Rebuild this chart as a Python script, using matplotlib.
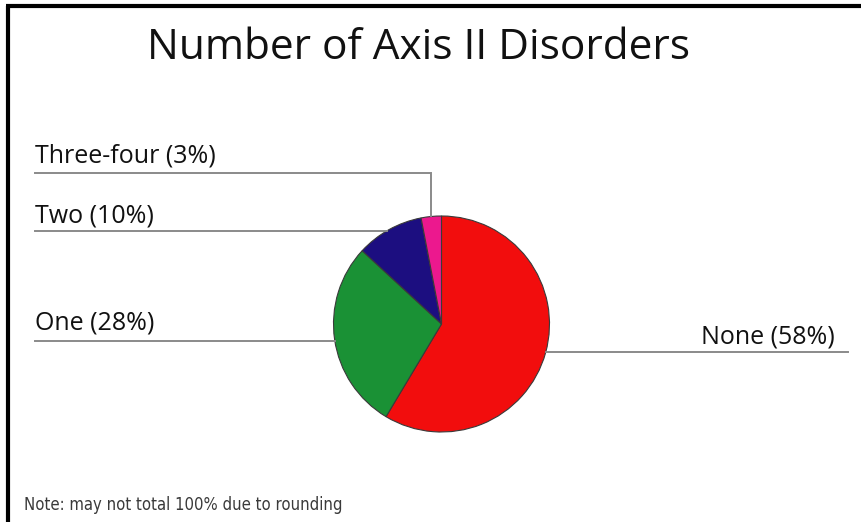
import numpy as np
import matplotlib
matplotlib.use("Agg")
import matplotlib.pyplot as plt

# data
labels = ["None", "One", "Two", "Three-four"]
percents = [58, 28, 10, 3]
colors = ["#F20D0D", "#1A9135", "#1C0E80", "#EC188E"]

W, H = 862, 522
fig = plt.figure(figsize=(W / 100, H / 100), dpi=100)
ax = fig.add_axes([0, 0, 1, 1])

# pixel layout (y measured from top, flipped below)
cx, cy, r = 441.5, H - 324, 108
wedges, _ = ax.pie(percents, colors=colors, startangle=90, counterclock=False,
                   center=(cx, cy), radius=r,
                   wedgeprops=dict(edgecolor="#3a3a3a", linewidth=0.8))
ax.set_xlim(0, W)
ax.set_ylim(0, H)
ax.set_aspect("equal")
ax.axis("off")

lc = "#8a8a8a"
lw = 1.4
fs = 18
fam = ["Open Sans", "DejaVu Sans"]
tc = "#111111"
x_left = 35

def edge_x(y, side):
    dy = y - cy
    return cx + side * np.sqrt(r ** 2 - dy ** 2)

# Three-four: vertical from the wedge top then left
w = wedges[3]
mid = np.deg2rad((w.theta1 + w.theta2) / 2)
tx, ty = cx + r * np.cos(mid), cy + r * np.sin(mid)
y3 = H - 173
ax.plot([x_left, tx, tx], [y3, y3, ty], color=lc, lw=lw, solid_joinstyle="miter")
ax.text(x_left, H - 162, f"{labels[3]} ({percents[3]}%)", fontsize=fs, family=fam,
        va="baseline", ha="left", color=tc)

# Two
y2 = H - 230.5
ax.plot([x_left, edge_x(y2, -1)], [y2, y2], color=lc, lw=lw)
ax.text(x_left, H - 222, f"{labels[2]} ({percents[2]}%)", fontsize=fs, family=fam,
        va="baseline", ha="left", color=tc)

# One
y1 = H - 341
ax.plot([x_left, edge_x(y1, -1)], [y1, y1], color=lc, lw=lw)
ax.text(x_left, H - 330, f"{labels[1]} ({percents[1]}%)", fontsize=fs, family=fam,
        va="baseline", ha="left", color=tc)

# None
y0 = H - 351.5
ax.plot([edge_x(y0, 1), 848], [y0, y0], color=lc, lw=lw)
ax.text(835, H - 343, f"{labels[0]} ({percents[0]}%)", fontsize=fs, family=fam,
        va="baseline", ha="right", color=tc)

# title and note
ax.text(419, H - 59, "Number of Axis II Disorders", fontsize=30.5, family=fam,
        ha="center", va="baseline", color=tc)
ax.text(24, H - 510, "Note: may not total 100% due to rounding", fontsize=12,
        family="DejaVu Sans", stretch="condensed", ha="left",
        va="baseline", color="#3a3a3a")

# frame on left and top
ax.plot([8, 8], [0, H - 6], color="black", lw=3, solid_capstyle="butt")
ax.plot([6.5, W], [H - 6, H - 6], color="black", lw=3, solid_capstyle="butt")

fig.savefig("out.png", dpi=100)
